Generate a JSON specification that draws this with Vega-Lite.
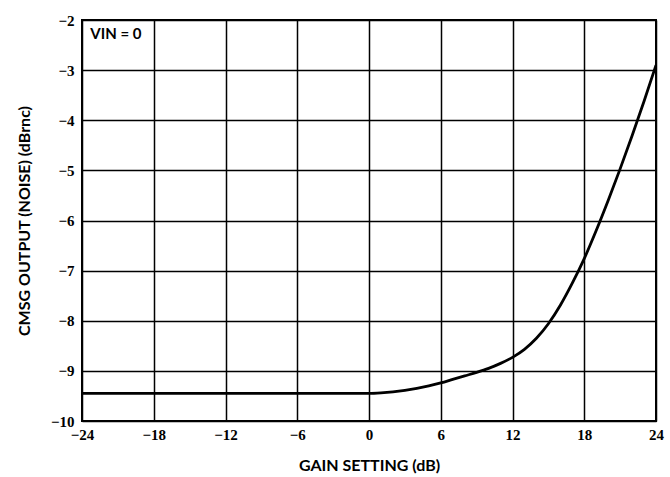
{
  "$schema": "https://vega.github.io/schema/vega-lite/v6.json",
  "width": 574,
  "height": 401,
  "autosize": {"type": "none"},
  "padding": {"left": 82, "top": 20, "right": 14, "bottom": 56},
  "background": "white",
  "config": {
    "view": {"stroke": "black", "strokeWidth": 2},
    "axis": {
      "grid": true,
      "gridColor": "black",
      "gridWidth": 1.5,
      "gridOpacity": 1,
      "domain": false,
      "ticks": false,
      "labelFont": "Liberation Serif",
      "labelFontWeight": "bold",
      "labelFontSize": 15,
      "labelColor": "black",
      "titleFont": "Lato",
      "titleFontWeight": "bold",
      "titleFontSize": 16,
      "titleColor": "black"
    }
  },
  "datasets": {
    "curve": [
      {"gain": -24, "noise": -9.45},
      {"gain": -18, "noise": -9.45},
      {"gain": -12, "noise": -9.45},
      {"gain": -6, "noise": -9.45},
      {"gain": 0, "noise": -9.45},
      {"gain": 1, "noise": -9.44},
      {"gain": 2, "noise": -9.42},
      {"gain": 3, "noise": -9.39},
      {"gain": 4, "noise": -9.35},
      {"gain": 5, "noise": -9.3},
      {"gain": 6, "noise": -9.24},
      {"gain": 7, "noise": -9.17},
      {"gain": 8, "noise": -9.1},
      {"gain": 9, "noise": -9.03},
      {"gain": 10, "noise": -8.95},
      {"gain": 11, "noise": -8.85},
      {"gain": 12, "noise": -8.73},
      {"gain": 13, "noise": -8.57},
      {"gain": 14, "noise": -8.35},
      {"gain": 15, "noise": -8.06},
      {"gain": 16, "noise": -7.69},
      {"gain": 17, "noise": -7.25},
      {"gain": 18, "noise": -6.76},
      {"gain": 19, "noise": -6.2},
      {"gain": 20, "noise": -5.6},
      {"gain": 21, "noise": -4.97},
      {"gain": 22, "noise": -4.31},
      {"gain": 23, "noise": -3.62},
      {"gain": 24, "noise": -2.9}
    ],
    "note": [
      {"gain": -23.3, "noise": -2.27, "label": "VIN = 0"}
    ]
  },
  "layer": [
    {
      "data": {"name": "curve"},
      "mark": {"type": "line", "color": "black", "strokeWidth": 2.8, "interpolate": "monotone", "clip": true},
      "encoding": {
        "x": {
          "field": "gain",
          "type": "quantitative",
          "scale": {"domain": [-24, 24], "nice": false, "zero": false},
          "axis": {
            "values": [-24, -18, -12, -6, 0, 6, 12, 18, 24],
            "title": "GAIN SETTING (dB)",
            "labelPadding": 6,
            "titlePadding": 15,
            "labelFlush": false
          }
        },
        "y": {
          "field": "noise",
          "type": "quantitative",
          "scale": {"domain": [-10, -2], "nice": false, "zero": false},
          "axis": {
            "values": [-10, -9, -8, -7, -6, -5, -4, -3, -2],
            "title": "CMSG OUTPUT (NOISE) (dBrnc)",
            "labelPadding": 8,
            "titlePadding": 18,
            "labelFlush": false
          }
        }
      }
    },
    {
      "data": {"name": "note"},
      "mark": {"type": "text", "align": "left", "baseline": "middle", "font": "Lato", "fontWeight": "bold", "fontSize": 15, "color": "black"},
      "encoding": {
        "x": {"field": "gain", "type": "quantitative"},
        "y": {"field": "noise", "type": "quantitative"},
        "text": {"field": "label"}
      }
    }
  ]
}
